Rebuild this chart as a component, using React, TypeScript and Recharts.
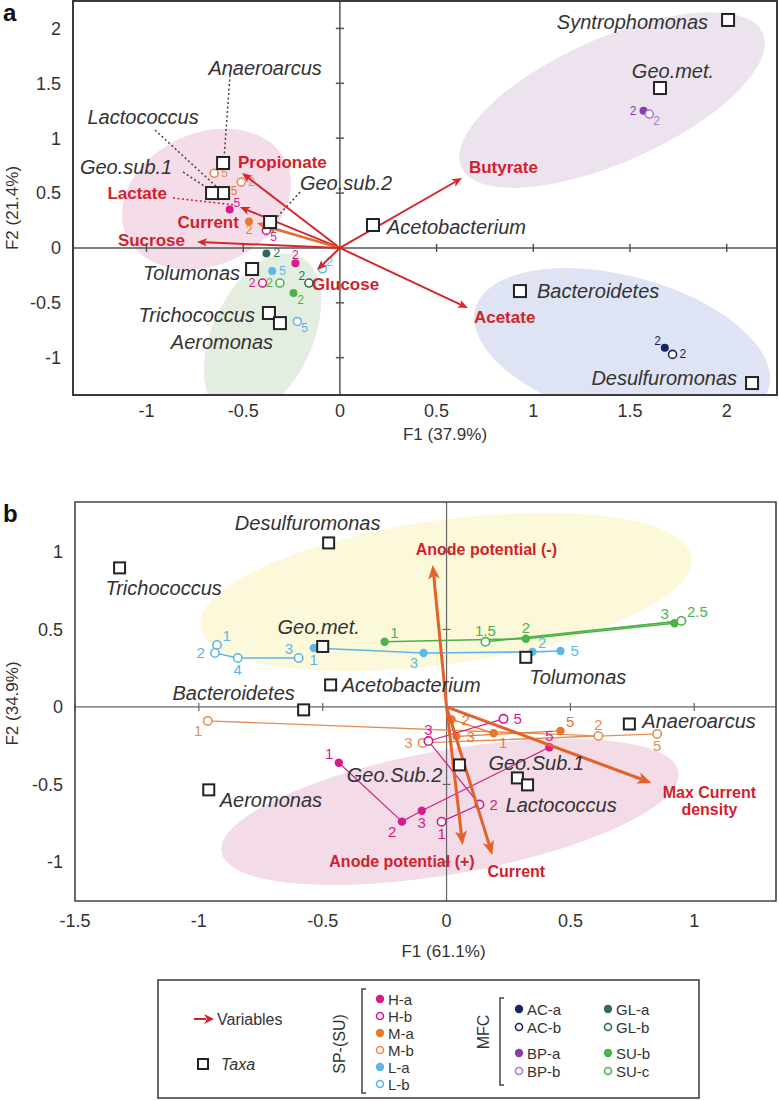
import React from 'react';
import { ScatterChart, Scatter, XAxis, YAxis, ReferenceLine, ReferenceArea, Label } from 'recharts';

const FONT = "'Liberation Sans', Arial, Helvetica, sans-serif";
const TXT = '#333333';
const RED = '#d21f2b';

const C = {
  H: '#d81b8a', M: '#e47a2e', Mo: '#e58f57', L: '#5db7e8', AC: '#1b2463', GL: '#2f6b56',
  BP: '#8b3cab', BPo: '#a57ad0', SU: '#4db24b',
};

type P = { x: number; y: number; t: string };

// ================= Panel a data =================
const aXDomain: [number, number] = [-1.38, 2.26];
const aYDomain: [number, number] = [-1.34, 2.25];
const aXTicks = [-1, -0.5, 0, 0.5, 1, 1.5, 2];
const aYTicks = [-1, -0.5, 0, 0.5, 1, 1.5, 2];

const aTaxa = [
  { name: 'Syntrophomonas', x: 2.007, y: 2.077 },
  { name: 'Geo.met.', x: 1.655, y: 1.457 },
  { name: 'Anaeroarcus', x: -0.604, y: 0.774 },
  { name: 'Lactococcus', x: -0.604, y: 0.5 },
  { name: 'Geo.sub.1', x: -0.661, y: 0.5 },
  { name: 'Geo.sub.2', x: -0.361, y: 0.236 },
  { name: 'Acetobacterium', x: 0.171, y: 0.209 },
  { name: 'Tolumonas', x: -0.454, y: -0.192 },
  { name: 'Trichococcus', x: -0.367, y: -0.593 },
  { name: 'Aeromonas', x: -0.31, y: -0.685 },
  { name: 'Bacteroidetes', x: 0.931, y: -0.393 },
  { name: 'Desulfuromonas', x: 2.131, y: -1.231 },
];

const aVars = [
  { name: 'Propionate', x: -0.506, y: 0.682 },
  { name: 'Lactate', x: -0.517, y: 0.373 },
  { name: 'Current', x: -0.429, y: 0.227 },
  { name: 'Sucrose', x: -0.739, y: 0.054 },
  { name: 'Glucose', x: -0.118, y: -0.201 },
  { name: 'Butyrate', x: 0.631, y: 0.637 },
  { name: 'Acetate', x: 0.662, y: -0.547 },
];
const aExtraVector = { x: -0.38, y: 0.19 };

const aLeaders = [
  { x1: -0.568, y1: 1.575, x2: -0.599, y2: 0.819 },
  { x1: -0.956, y1: 1.074, x2: -0.636, y2: 0.555 },
  { x1: -0.811, y1: 0.692, x2: -0.687, y2: 0.546 },
  { x1: -0.206, y1: 0.509, x2: -0.325, y2: 0.282 },
];
const aLactateLeader = { x1: -0.863, y1: 0.455, x2: -0.542, y2: 0.391 };

const aHa: P[] = [{ x: -0.57, y: 0.35, t: '5' }, { x: -0.23, y: -0.14, t: '2' }];
const aHb: P[] = [{ x: -0.38, y: 0.16, t: '5' }, { x: -0.4, y: -0.32, t: '2' }];
const aMa: P[] = [{ x: -0.6, y: 0.52, t: '5' }, { x: -0.47, y: 0.24, t: '2' }];
const aMb: P[] = [{ x: -0.65, y: 0.68, t: '5' }, { x: -0.51, y: 0.6, t: '2' }];
const aLa: P[] = [{ x: -0.35, y: -0.21, t: '5' }];
const aLb: P[] = [{ x: -0.09, y: -0.19, t: '2' }, { x: -0.22, y: -0.67, t: '5' }];
const aGLa: P[] = [{ x: -0.38, y: -0.05, t: '2' }];
const aGLb: P[] = [{ x: -0.16, y: -0.32, t: '2' }];
const aSUb: P[] = [{ x: -0.24, y: -0.41, t: '2' }];
const aSUc: P[] = [{ x: -0.31, y: -0.32, t: '2' }];
const aBPa: P[] = [{ x: 1.57, y: 1.25, t: '2' }];
const aBPb: P[] = [{ x: 1.6, y: 1.22, t: '2' }];
const aACa: P[] = [{ x: 1.68, y: -0.91, t: '2' }];
const aACb: P[] = [{ x: 1.72, y: -0.97, t: '2' }];

// label placement (layout only)
const aHaPos = ['ne', 'n'];
const aHbPos = ['se', 'w'];
const aMaPos = ['e', 's'];
const aMbPos = ['e', 'e'];
const aLaPos = ['e'];
const aLbPos = ['ne', 'se'];
const aGLaPos = ['e'];
const aGLbPos = ['nw'];
const aSUbPos = ['se'];
const aSUcPos = ['w'];
const aBPaPos = ['w'];
const aBPbPos = ['se'];
const aACaPos = ['nw'];
const aACbPos = ['e'];

// ================= Panel b data =================
const bXDomain: [number, number] = [-1.5, 1.33];
const bYDomain: [number, number] = [-1.252, 1.322];
const bXTicks = [-1.5, -1, -0.5, 0, 0.5, 1];
const bYTicks = [-1, -0.5, 0, 0.5, 1];

const bTaxa = [
  { name: 'Desulfuromonas', x: -0.476, y: 1.058 },
  { name: 'Trichococcus', x: -1.32, y: 0.897 },
  { name: 'Geo.met.', x: -0.5, y: 0.39 },
  { name: 'Acetobacterium', x: -0.468, y: 0.142 },
  { name: 'Bacteroidetes', x: -0.577, y: -0.019 },
  { name: 'Tolumonas', x: 0.32, y: 0.32 },
  { name: 'Anaeroarcus', x: 0.738, y: -0.11 },
  { name: 'Geo.Sub.1', x: 0.286, y: -0.458 },
  { name: 'Lactococcus', x: 0.327, y: -0.503 },
  { name: 'Geo.Sub.2', x: 0.052, y: -0.374 },
  { name: 'Aeromonas', x: -0.96, y: -0.535 },
];

const bVars = [
  { name: 'Anode potential (-)', x: -0.056, y: 0.916 },
  { name: 'Max Current\ndensity', x: 0.827, y: -0.49 },
  { name: 'Anode potential (+)', x: 0.065, y: -0.89 },
  { name: 'Current', x: 0.185, y: -0.955 },
];

const bLb: P[] = [
  { x: -0.927, y: 0.4, t: '1' }, { x: -0.935, y: 0.348, t: '2' },
  { x: -0.843, y: 0.316, t: '4' }, { x: -0.597, y: 0.316, t: '3' },
];
const bLa: P[] = [
  { x: -0.536, y: 0.38, t: '1' }, { x: -0.093, y: 0.348, t: '3' },
  { x: 0.347, y: 0.355, t: '2' }, { x: 0.46, y: 0.361, t: '5' },
];
const bSUb: P[] = [{ x: -0.25, y: 0.42, t: '1' }, { x: 0.32, y: 0.44, t: '2' }, { x: 0.92, y: 0.54, t: '3' }];
const bSUc: P[] = [{ x: 0.157, y: 0.42, t: '1.5' }, { x: 0.948, y: 0.555, t: '2.5' }];
const bMb: P[] = [
  { x: -0.964, y: -0.09, t: '1' }, { x: 0.613, y: -0.187, t: '2' },
  { x: -0.097, y: -0.232, t: '3' }, { x: 0.85, y: -0.174, t: '5' },
];
const bMa: P[] = [
  { x: 0.19, y: -0.17, t: '1' }, { x: 0.02, y: -0.08, t: '2' },
  { x: 0.04, y: -0.19, t: '3' }, { x: 0.46, y: -0.155, t: '5' },
];
const bHa: P[] = [
  { x: -0.435, y: -0.36, t: '1' }, { x: -0.18, y: -0.74, t: '2' },
  { x: -0.1, y: -0.67, t: '3' }, { x: 0.415, y: -0.26, t: '5' },
];
const bHb: P[] = [
  { x: -0.02, y: -0.74, t: '1' }, { x: 0.133, y: -0.63, t: '2' },
  { x: -0.073, y: -0.22, t: '3' }, { x: 0.23, y: -0.077, t: '5' },
];
const bLbPos = ['ne', 'w', 's', 'nw'];
const bLaPos = ['s', 'sw', 'ne', 'e'];
const bSUbPos = ['ne', 'n', 'nw'];
const bSUcPos = ['n', 'ne'];
const bMbPos = ['sw', 'n', 'w', 's'];
const bMaPos = ['se', 'e', 'e', 'ne'];
const bHaPos = ['nw', 'sw', 's', 'n'];
const bHbPos = ['s', 'e', 'n', 'e'];

// legend
const legendSP = ['H-a', 'H-b', 'M-a', 'M-b', 'L-a', 'L-b'];
const legendMFC1 = ['AC-a', 'AC-b', 'BP-a', 'BP-b'];
const legendMFC2 = ['GL-a', 'GL-b', 'SU-b', 'SU-c'];

// ================= layout / styles =================
type Anchor = 'start' | 'middle' | 'end';
type Lay = { dx: number; dy: number; a: Anchor };

const aTaxaLayout: Record<string, Lay> = {
  Syntrophomonas: { dx: -20, dy: 2, a: 'end' },
  'Geo.met.': { dx: 13, dy: -17, a: 'middle' },
  Anaeroarcus: { dx: 42, dy: -95, a: 'middle' },
  Lactococcus: { dx: -80, dy: -76, a: 'middle' },
  'Geo.sub.1': { dx: -86, dy: -26, a: 'middle' },
  'Geo.sub.2': { dx: 76, dy: -39, a: 'middle' },
  Acetobacterium: { dx: 14, dy: 2, a: 'start' },
  Tolumonas: { dx: -12, dy: 4, a: 'end' },
  Trichococcus: { dx: -14, dy: 2, a: 'end' },
  Aeromonas: { dx: -58, dy: 19, a: 'middle' },
  Bacteroidetes: { dx: 17, dy: 0, a: 'start' },
  Desulfuromonas: { dx: -15, dy: -5, a: 'end' },
};
const aVarLayout: Record<string, Lay> = {
  Propionate: { dx: -4, dy: -11, a: 'start' },
  Lactate: { dx: -73, dy: -13, a: 'end' },
  Current: { dx: -18, dy: -1, a: 'end' },
  Sucrose: { dx: -12, dy: -2, a: 'end' },
  Glucose: { dx: -5, dy: 15, a: 'start' },
  Butyrate: { dx: 7, dy: -11, a: 'start' },
  Acetate: { dx: 6, dy: 10, a: 'start' },
};
const bTaxaLayout: Record<string, Lay> = {
  Desulfuromonas: { dx: -21, dy: -20, a: 'middle' },
  Trichococcus: { dx: 44, dy: 20, a: 'middle' },
  'Geo.met.': { dx: -4, dy: -19, a: 'middle' },
  Acetobacterium: { dx: 11, dy: 0, a: 'start' },
  Bacteroidetes: { dx: -70, dy: -17, a: 'middle' },
  Tolumonas: { dx: 52, dy: 20, a: 'middle' },
  Anaeroarcus: { dx: 13, dy: -3, a: 'start' },
  'Geo.Sub.1': { dx: -29, dy: -15, a: 'start' },
  Lactococcus: { dx: -22, dy: 20, a: 'start' },
  'Geo.Sub.2': { dx: -17, dy: 10, a: 'end' },
  Aeromonas: { dx: 11, dy: 10, a: 'start' },
};
const bVarLayout: Record<string, Lay> = {
  'Anode potential (-)': { dx: -17, dy: -15, a: 'start' },
  'Max Current\ndensity': { dx: 58, dy: 10, a: 'middle' },
  'Anode potential (+)': { dx: 12, dy: 17, a: 'end' },
  Current: { dx: -5, dy: 17, a: 'start' },
};

// decorative ellipses: centre in data units, radii in px
const aEllipses = [
  { x: -0.69, y: 0.445, rx: 88, ry: 66, rot: -25, fill: '#f4dde9' },
  { x: -0.4, y: -0.8, rx: 50, ry: 88, rot: 25, fill: '#e4eee0' },
  { x: 1.407, y: 1.347, rx: 165, ry: 62, rot: -24, fill: '#ece3ef' },
  { x: 1.459, y: -0.912, rx: 152, ry: 72, rot: 15, fill: '#dfe4f4' },
];
const bEllipses = [
  { x: -0.002, y: 0.742, rx: 248, ry: 72, rot: -8, fill: '#fbf9d9' },
  { x: 0.014, y: -0.677, rx: 232, ry: 62, rot: -10, fill: '#f3dbe8' },
];

const OFF: Record<string, [number, number, Anchor]> = {
  e: [1, 0, 'start'], w: [-1, 0, 'end'], n: [0, -1.15, 'middle'], s: [0, 1.15, 'middle'],
  ne: [0.55, -0.95, 'start'], nw: [-0.55, -0.95, 'end'], se: [0.55, 0.95, 'start'], sw: [-0.55, 0.95, 'end'],
};

const withPos = (pts: P[], pos: string[]) => pts.map((p, i) => ({ ...p, pos: pos[i] || 'e' }));

const ellipseShape = (p: any) => {
  const { cx, cy, payload } = p;
  if (cx == null || cy == null) return <g />;
  return (
    <ellipse cx={cx} cy={cy} rx={payload.rx} ry={payload.ry} fill={payload.fill}
      transform={`rotate(${payload.rot} ${cx} ${cy})`} />
  );
};

const sampleShape = (color: string, filled: boolean, r: number, fs: number, d: number) => (p: any) => {
  const { cx, cy, payload } = p;
  if (cx == null || cy == null) return <g />;
  const o = OFF[payload.pos] || OFF.e;
  return (
    <g>
      <circle cx={cx} cy={cy} r={r} fill={filled ? color : '#ffffff'} stroke={color} strokeWidth={filled ? 0 : 1.6} />
      <text x={cx + o[0] * d} y={cy + o[1] * d} textAnchor={o[2]} dominantBaseline="central"
        fontSize={fs} fill={color} fontFamily={FONT}>{payload.t}</text>
    </g>
  );
};

const taxaShape = (size: number, fs: number, layout: Record<string, Lay>) => (p: any) => {
  const { cx, cy, payload } = p;
  if (cx == null || cy == null) return <g />;
  const L = layout[payload.name] || { dx: 12, dy: 0, a: 'start' as Anchor };
  return (
    <g>
      <rect x={cx - size / 2} y={cy - size / 2} width={size} height={size} fill="#ffffff" stroke="#222" strokeWidth={2} />
      <text x={cx + L.dx} y={cy + L.dy} textAnchor={L.a} dominantBaseline="central" fontStyle="italic"
        fontSize={fs} fill={TXT} fontFamily={FONT}>{payload.name}</text>
    </g>
  );
};

const arrowShape = (color: string, w: number, head: number, text: string, lay: Lay | undefined, fs: number) => (p: any) => {
  const x1 = Number(p.x1), y1 = Number(p.y1), x2 = Number(p.x2), y2 = Number(p.y2);
  if (![x1, y1, x2, y2].every((v) => isFinite(v))) return <g />;
  const ang = Math.atan2(y2 - y1, x2 - x1);
  const ca = Math.cos(ang), sa = Math.sin(ang);
  const hw = head * 0.42;
  const bx = x2 - head * ca, by = y2 - head * sa;
  const nx = x2 - head * 0.75 * ca, ny = y2 - head * 0.75 * sa;
  const pts = `${x2},${y2} ${bx - sa * hw},${by + ca * hw} ${nx},${ny} ${bx + sa * hw},${by - ca * hw}`;
  const lines = text ? text.split('\n') : [];
  return (
    <g>
      <line x1={x1} y1={y1} x2={nx} y2={ny} stroke={color} strokeWidth={w} />
      <polygon points={pts} fill={color} />
      {lay && lines.map((ln, i) => (
        <text key={i} x={x2 + lay.dx} y={y2 + lay.dy + i * (fs + 1)} textAnchor={lay.a} dominantBaseline="central"
          fontWeight="bold" fontSize={fs} fill={RED} fontFamily={FONT}>{ln}</text>
      ))}
    </g>
  );
};

function tickSegments(ticks: number[], along: 'x' | 'y', half: number) {
  return ticks.filter((t) => t !== 0).map((t) =>
    along === 'x'
      ? [{ x: t, y: -half }, { x: t, y: half }]
      : [{ x: -half, y: t }, { x: half, y: t }]
  );
}

// ================= Panel a =================
function PanelA() {
  const samples = [
    { d: withPos(aHa, aHaPos), c: C.H, f: true },
    { d: withPos(aHb, aHbPos), c: C.H, f: false },
    { d: withPos(aMa, aMaPos), c: C.M, f: true },
    { d: withPos(aMb, aMbPos), c: C.Mo, f: false },
    { d: withPos(aLa, aLaPos), c: C.L, f: true },
    { d: withPos(aLb, aLbPos), c: C.L, f: false },
    { d: withPos(aGLa, aGLaPos), c: C.GL, f: true },
    { d: withPos(aGLb, aGLbPos), c: C.GL, f: false },
    { d: withPos(aSUb, aSUbPos), c: C.SU, f: true },
    { d: withPos(aSUc, aSUcPos), c: C.SU, f: false },
    { d: withPos(aBPa, aBPaPos), c: C.BP, f: true },
    { d: withPos(aBPb, aBPbPos), c: C.BPo, f: false },
    { d: withPos(aACa, aACaPos), c: C.AC, f: true },
    { d: withPos(aACb, aACbPos), c: C.AC, f: false },
  ];
  const xt = tickSegments(aXTicks, 'x', 0.037);
  const yt = tickSegments(aYTicks, 'y', 0.021);
  return (
    <ScatterChart width={779} height={450} margin={{ top: 1, right: 2, bottom: 25, left: 13 }} style={{ fontFamily: FONT }}>
      <XAxis type="number" dataKey="x" domain={aXDomain} ticks={aXTicks} allowDataOverflow interval={0}
        axisLine={false} tickLine={false} tickSize={0} tickMargin={9} height={30}
        tick={{ fontSize: 18, fill: TXT, fontFamily: FONT }}>
        <Label value="F1 (37.9%)" position="bottom" offset={3} dx={20} fontSize={17} fill={TXT} fontFamily={FONT} />
      </XAxis>
      <YAxis type="number" dataKey="y" domain={aYDomain} ticks={aYTicks} allowDataOverflow interval={0}
        axisLine={false} tickLine={false} tickSize={0} tickMargin={12} width={60}
        tick={{ fontSize: 18, fill: TXT, fontFamily: FONT }}>
        <Label value="F2 (21.4%)" angle={-90} position="center" dx={-31} dy={10} fontSize={17} fill={TXT} fontFamily={FONT} />
      </YAxis>
      <Scatter data={aEllipses} shape={ellipseShape} isAnimationActive={false} zIndex={-60} />
      <ReferenceLine y={0} stroke="#555" strokeWidth={1.5} zIndex={-40} />
      <ReferenceLine x={0} stroke="#555" strokeWidth={1.5} zIndex={-40} />
      {xt.map((s, i) => <ReferenceLine key={'xt' + i} segment={s} stroke="#555" strokeWidth={1.5} zIndex={-40} />)}
      {yt.map((s, i) => <ReferenceLine key={'yt' + i} segment={s} stroke="#555" strokeWidth={1.5} zIndex={-40} />)}
      {aLeaders.map((l, i) => (
        <ReferenceLine key={'ld' + i} segment={[{ x: l.x1, y: l.y1 }, { x: l.x2, y: l.y2 }]}
          stroke="#444" strokeWidth={1.5} strokeDasharray="2 2.5" zIndex={550} />
      ))}
      <ReferenceLine segment={[{ x: aLactateLeader.x1, y: aLactateLeader.y1 }, { x: aLactateLeader.x2, y: aLactateLeader.y2 }]}
        stroke={RED} strokeWidth={1.5} strokeDasharray="2 2.5" zIndex={550} />
      {samples.map((s, i) => (
        <Scatter key={'s' + i} data={s.d} shape={sampleShape(s.c, s.f, 4, 12, 7)} isAnimationActive={false} zIndex={600} />
      ))}
      <ReferenceLine segment={[{ x: 0, y: 0 }, { x: aExtraVector.x, y: aExtraVector.y }]}
        shape={arrowShape('#e0702c', 2, 10, '', undefined, 17)} zIndex={650} />
      {aVars.map((v) => (
        <ReferenceLine key={v.name} segment={[{ x: 0, y: 0 }, { x: v.x, y: v.y }]}
          shape={arrowShape(v.name === 'Current' ? '#e0702c' : '#d4262c', 2, 10, v.name, aVarLayout[v.name], 17)} zIndex={650} />
      ))}
      <Scatter data={aTaxa} shape={taxaShape(12, 20, aTaxaLayout)} isAnimationActive={false} zIndex={700} />
      <ReferenceArea x1={aXDomain[0]} x2={aXDomain[1]} y1={aYDomain[0]} y2={aYDomain[1]}
        fill="none" fillOpacity={0} stroke="#3a3a3a" strokeWidth={2} zIndex={800} />
    </ScatterChart>
  );
}

// ================= Panel b =================
function PanelB() {
  const series = [
    { d: withPos(bLb, bLbPos), c: C.L, f: false, lw: 1.6 },
    { d: withPos(bLa, bLaPos), c: C.L, f: true, lw: 1.6 },
    { d: withPos(bSUb, bSUbPos), c: C.SU, f: true, lw: 1.6 },
    { d: withPos(bSUc, bSUcPos), c: C.SU, f: false, lw: 1.6 },
    { d: withPos(bMb, bMbPos), c: C.Mo, f: false, lw: 1.3 },
    { d: withPos(bMa, bMaPos), c: C.M, f: true, lw: 1.3 },
    { d: withPos(bHa, bHaPos), c: C.H, f: true, lw: 1.2 },
    { d: withPos(bHb, bHbPos), c: C.H, f: false, lw: 1.2 },
  ];
  const xt = tickSegments(bXTicks, 'x', 0.026);
  const yt = tickSegments(bYTicks, 'y', 0.016);
  return (
    <ScatterChart width={779} height={480} margin={{ top: 22, right: 3, bottom: 29, left: 15 }} style={{ fontFamily: FONT }}>
      <XAxis type="number" dataKey="x" domain={bXDomain} ticks={bXTicks} allowDataOverflow interval={0}
        axisLine={false} tickLine={false} tickSize={0} tickMargin={13} height={30}
        tick={{ fontSize: 18, fill: TXT, fontFamily: FONT }}>
        <Label value="F1 (61.1%)" position="bottom" offset={14} dx={18} fontSize={17} fill={TXT} fontFamily={FONT} />
      </XAxis>
      <YAxis type="number" dataKey="y" domain={bYDomain} ticks={bYTicks} allowDataOverflow interval={0}
        axisLine={false} tickLine={false} tickSize={0} tickMargin={12} width={60}
        tick={{ fontSize: 18, fill: TXT, fontFamily: FONT }}>
        <Label value="F2 (34.9%)" angle={-90} position="center" dx={-33} dy={2} fontSize={17} fill={TXT} fontFamily={FONT} />
      </YAxis>
      <Scatter data={bEllipses} shape={ellipseShape} isAnimationActive={false} zIndex={-60} />
      <ReferenceLine y={0} stroke="#666" strokeWidth={1.2} zIndex={-40} />
      <ReferenceLine x={0} stroke="#666" strokeWidth={1.2} zIndex={-40} />
      {xt.map((s, i) => <ReferenceLine key={'xt' + i} segment={s} stroke="#666" strokeWidth={1.2} zIndex={-40} />)}
      {yt.map((s, i) => <ReferenceLine key={'yt' + i} segment={s} stroke="#666" strokeWidth={1.2} zIndex={-40} />)}
      {series.map((s, i) => (
        <Scatter key={'b' + i} data={s.d} line={{ stroke: s.c, strokeWidth: s.lw }} lineType="joint"
          shape={sampleShape(s.c, s.f, 4.2, 15, 10)} isAnimationActive={false} zIndex={600} />
      ))}
      {bVars.map((v) => (
        <ReferenceLine key={v.name} segment={[{ x: 0, y: 0 }, { x: v.x, y: v.y }]}
          shape={arrowShape('#e2622a', 3, 14, v.name, bVarLayout[v.name], 16)} zIndex={650} />
      ))}
      <Scatter data={bTaxa} shape={taxaShape(11, 20, bTaxaLayout)} isAnimationActive={false} zIndex={700} />
      <ReferenceArea x1={bXDomain[0]} x2={bXDomain[1]} y1={bYDomain[0]} y2={bYDomain[1]}
        fill="none" fillOpacity={0} stroke="#444" strokeWidth={1.6} zIndex={800} />
    </ScatterChart>
  );
}

// ================= Overlay: panel letters + legend =================
const legendColor: Record<string, [string, boolean]> = {
  'H-a': [C.H, true], 'H-b': [C.H, false], 'M-a': [C.M, true], 'M-b': [C.Mo, false],
  'L-a': [C.L, true], 'L-b': [C.L, false], 'AC-a': [C.AC, true], 'AC-b': [C.AC, false],
  'BP-a': [C.BP, true], 'BP-b': [C.BPo, false], 'GL-a': [C.GL, true], 'GL-b': [C.GL, false],
  'SU-b': [C.SU, true], 'SU-c': [C.SU, false],
};

function LegendMark({ x, y, name }: { x: number; y: number; name: string }) {
  const [c, f] = legendColor[name];
  return <circle cx={x} cy={y} r={f ? 4.2 : 3.5} fill={f ? c : '#fff'} stroke={c} strokeWidth={f ? 0 : 1.6} />;
}

function Overlay() {
  const spRows = legendSP.map((_, i) => 999 + i * 17);
  const mfcRows = [1009, 1027, 1053, 1071];
  return (
    <svg width={779} height={1101} style={{ position: 'absolute', left: 0, top: 0, pointerEvents: 'none' }}
      fontFamily={FONT}>
      <text x={3} y={21} fontSize={24} fontWeight="bold" fill="#111">a</text>
      <text x={3} y={522} fontSize={24} fontWeight="bold" fill="#111">b</text>
      <rect x={158} y={980} width={541} height={118} fill="#fff" stroke="#444" strokeWidth={1.6} />
      {/* variables */}
      <line x1={194} y1={1019} x2={206} y2={1019} stroke={RED} strokeWidth={2} />
      <polygon points="214,1019 204,1014 207,1019 204,1024" fill={RED} />
      <text x={217} y={1019} dominantBaseline="central" fontSize={16} fill={TXT}>Variables</text>
      {/* taxa */}
      <rect x={198} y={1059} width={10} height={10} fill="#fff" stroke="#222" strokeWidth={2} />
      <text x={221} y={1064} dominantBaseline="central" fontSize={16} fontStyle="italic" fill={TXT}>Taxa</text>
      {/* SP-(SU) */}
      <text x={339} y={1044} transform="rotate(-90 339 1044)" textAnchor="middle" dominantBaseline="central"
        fontSize={16} fill={TXT}>SP-(SU)</text>
      <path d="M366,989 L362,989 L362,1093 L366,1093" fill="none" stroke="#444" strokeWidth={1.5} />
      {legendSP.map((n, i) => (
        <g key={n}>
          <LegendMark x={380} y={spRows[i]} name={n} />
          <text x={388} y={spRows[i]} dominantBaseline="central" fontSize={15} fill={TXT}>{n}</text>
        </g>
      ))}
      {/* MFC */}
      <text x={483} y={1032} transform="rotate(-90 483 1032)" textAnchor="middle" dominantBaseline="central"
        fontSize={16} fill={TXT}>MFC</text>
      <path d="M504,998 L500,998 L500,1085 L504,1085" fill="none" stroke="#444" strokeWidth={1.5} />
      {legendMFC1.map((n, i) => (
        <g key={n}>
          <LegendMark x={519} y={mfcRows[i]} name={n} />
          <text x={527} y={mfcRows[i]} dominantBaseline="central" fontSize={15} fill={TXT}>{n}</text>
        </g>
      ))}
      {legendMFC2.map((n, i) => (
        <g key={n}>
          <LegendMark x={608} y={mfcRows[i]} name={n} />
          <text x={616} y={mfcRows[i]} dominantBaseline="central" fontSize={15} fill={TXT}>{n}</text>
        </g>
      ))}
    </svg>
  );
}

export default function App() {
  return (
    <div style={{ position: 'absolute', left: 0, top: 0, width: 779, height: 1101, background: '#fff', fontFamily: FONT }}>
      <div style={{ position: 'absolute', left: 0, top: 0 }}><PanelA /></div>
      <div style={{ position: 'absolute', left: 0, top: 480 }}><PanelB /></div>
      <Overlay />
    </div>
  );
}
